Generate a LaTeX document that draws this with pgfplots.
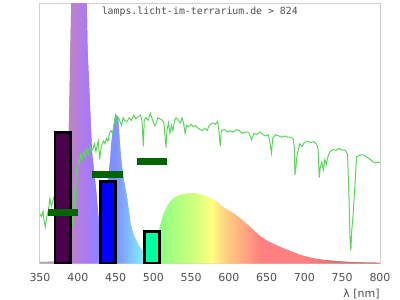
\documentclass[border=0pt]{standalone}
\usepackage{pgfplots}
\usepackage{pgfplotstable}
\pgfplotsset{compat=1.18}
\usepackage{fontspec}
\setmainfont{DejaVu Sans}
\newfontfamily\monofont{DejaVu Sans Mono}
\definecolor{labelgray}{RGB}{80,80,80}
\definecolor{framegray}{RGB}{208,208,208}
\definecolor{solargreen}{RGB}{90,214,90}
\definecolor{barpurple}{RGB}{75,0,75}
\definecolor{barblue}{RGB}{0,0,255}
\definecolor{barcyan}{RGB}{0,255,160}
\definecolor{segdark}{RGB}{0,100,0}
% wavelength colours
\definecolor{w350}{rgb}{0.67,0.67,0.67}
\definecolor{w380}{rgb}{0.70,0.60,0.72}
\definecolor{w388}{rgb}{0.74,0.52,0.76}
\definecolor{w398}{rgb}{0.72,0.50,0.84}
\definecolor{w405}{rgb}{0.69,0.49,0.92}
\definecolor{w412}{rgb}{0.66,0.48,0.96}
\definecolor{w420}{rgb}{0.60,0.50,1}
\definecolor{w435}{rgb}{0.52,0.54,1}
\definecolor{w450}{rgb}{0.50,0.57,1}
\definecolor{w460}{rgb}{0.50,0.66,1}
\definecolor{w470}{rgb}{0.50,0.77,1}
\definecolor{w480}{rgb}{0.50,0.88,1}
\definecolor{w490}{rgb}{0.50,0.98,0.88}
\definecolor{w500}{rgb}{0.52,1,0.60}
\definecolor{w509}{rgb}{0.56,1,0.50}
\definecolor{w526}{rgb}{0.66,1,0.50}
\definecolor{w548}{rgb}{0.78,1,0.50}
\definecolor{w570}{rgb}{0.94,1,0.50}
\definecolor{w577}{rgb}{1,1,0.50}
\definecolor{w588}{rgb}{1,0.88,0.50}
\definecolor{w601}{rgb}{1,0.78,0.50}
\definecolor{w615}{rgb}{1,0.69,0.50}
\definecolor{w628}{rgb}{1,0.60,0.50}
\definecolor{w641}{rgb}{1,0.50,0.50}
\definecolor{w700}{rgb}{1,0.50,0.50}
\definecolor{w730}{rgb}{0.90,0.46,0.46}
\definecolor{w760}{rgb}{0.80,0.43,0.43}
\definecolor{w800}{rgb}{0.70,0.40,0.40}
% whole-range ramp used as an underlay (position = 25bp + (lambda-350)/9 bp)
\pgfdeclarehorizontalshading{spectrum}{100bp}{
color(0bp)=(w350); color(25bp)=(w350); color(28.33bp)=(w380);
color(29.22bp)=(w388); color(30.33bp)=(w398); color(31.11bp)=(w405);
color(31.89bp)=(w412); color(32.78bp)=(w420); color(34.44bp)=(w435);
color(36.11bp)=(w450); color(37.22bp)=(w460); color(38.33bp)=(w470);
color(39.44bp)=(w480); color(40.56bp)=(w490); color(41.67bp)=(w500);
color(42.67bp)=(w509); color(44.56bp)=(w526); color(47bp)=(w548);
color(49.44bp)=(w570); color(50.22bp)=(w577); color(51.44bp)=(w588);
color(52.89bp)=(w601); color(54.44bp)=(w615); color(55.89bp)=(w628);
color(57.33bp)=(w641); color(63.89bp)=(w700); color(67.22bp)=(w730);
color(70.56bp)=(w760); color(75bp)=(w800); color(100bp)=(w800)}

\pgfplotstableread{
lambda v
350 0.6
360 0.6
370 0.7
380 1
384 2
386 10
387.5 40
388 48
389.7 75
391 95
392 120
395 180
398 210
400 220
405 190
409 140
411.8 100
412 98
413 82
414.5 72
416 62
417.3 53
419 43
420 40
421 37
423 32
425 26
427 19
429 14
432 17
435 22
440 32
443 40
444 45
447 52.5
449 55.8
450 56.5
451 57
453 56.5
454 54
456 45
458 38.5
460 34
461 32
465 25.7
468 19.3
470 15
472 12.8
474 11
478 8.5
480 7.3
482 6.3
486 5
490 5
495 5.5
500 7
505 10
509 14.5
513 18.6
518 21.8
522 23.7
526 24.8
529 25.4
535 26.3
546 26.9
548 26.9
556 27
562 26.6
570 25.8
575 25.2
577 24.8
584 23.7
588 22.8
590 22.2
601 20
606 19.3
615 17.3
628 14
641 10.5
650 8.8
660 7.3
672 5.8
684 4.4
694 3.3
700 2.8
705 2.4
716 1.7
727 1.3
730 1.2
738 1.0
750 0.7
760 0.5
770 0.4
782 0.3
800 0.2
}\specdata

\pgfplotstableread{
lambda v
350 19
352 18
354 20
355 17
357 14
359 18
361 20
363 25
365 22
367 24
369 26
372 28
376 30
380 31
384 27
388 32
391 29.5
393.4 14
395 30
396.8 18
398 35
400 40
402 38
404 42
406 40
408 43
410 41
412 44
414 42
416 45
418 43
420 44
422 46
424 43
427 47
429 40
431 45
434 47
436 46
438 48
440 47
442 50
444 51
446 50
448 53
450 57
452 55
454 56
456 54.5
458 53
460 56
462 55
465 54.5
468 56
471 55
474 57
477 55.5
480 56.5
483 57
485 55
486.8 45
488 55
490 56
493 55
496 57.7
499 55
502 53
504 54
506 56
509 55.5
512 55
514 54
516.8 44.5
518 51
520 54
522 50
524 53
526 51
528 55
530 56
533 55
536 54
538 56
540 54
542 50
544 53
547 52.5
550 53.5
553 52.5
556 53
559 52
562 51.5
565 51
568 52
571 51
574 53
578 54
582 53.5
585 54.5
586.5 52
588.5 45
590 51
594 51.5
598 50.5
602 51
606 50.5
610 51.5
614 51
618 50
622 50.5
626 50.5
630 47.5
633 50
637 49.5
641 50.5
645 49.5
648 49
652 49.5
654 47
656.3 42.5
658 48
662 49.5
666 49
670 48.5
674 49
678 48.5
682 48.5
685 48
686.5 45
687.5 34
689 38
690 41
692 44
694 46
697 45
700 46.5
704 47
708 46.5
712 46.8
716 46
718 44
719.6 33
721 37
723 39
725 36
727 40
729 38
731 41
734 43
738 43.8
742 43.5
746 44.2
750 43.6
754 43.5
757 42
759 25
760.5 8
761.5 5
762.5 12
764.5 19
767 31
769 41
772 41.5
776 41.8
780 41.4
784 40.5
787 40
791 39
795 38.6
798 39
800 38.6
}\solardata

\newcommand{\seg}[2]{\addplot[draw=none, left color=w#1, right color=w#2, restrict x to domain=#1:#2] table[x=lambda,y=v]{\specdata} \closedcycle;}

\begin{document}
\begin{tikzpicture}
\begin{axis}[
  scale only axis, width=255pt, height=195pt,
  xmin=350, xmax=800, ymin=0, ymax=100,
  xtick={350,400,...,800}, ytick=\empty,
  major tick length=0pt,
  axis line style={draw=framegray, line width=0.75pt},
  xticklabel style={font=\fontsize{8.25}{10}\selectfont, text=labelgray, anchor=base, yshift=-13.8pt},
  /pgf/number format/assume math mode=true,
  clip=true,
]
% underlay (hides seams between the gradient pieces)
\addplot[draw=none, shade, shading=spectrum] table[x=lambda,y=v]{\specdata} \closedcycle;
\seg{350}{380}\seg{380}{388}\seg{388}{398}\seg{398}{405}\seg{405}{412}
\seg{412}{420}\seg{420}{435}\seg{435}{450}\seg{450}{460}\seg{460}{470}
\seg{470}{480}\seg{480}{490}\seg{490}{500}\seg{500}{509}\seg{509}{526}
\seg{526}{548}\seg{548}{570}\seg{570}{577}\seg{577}{588}\seg{588}{601}
\seg{601}{615}\seg{615}{628}\seg{628}{641}\seg{641}{700}\seg{700}{730}
\seg{730}{760}\seg{760}{800}
\addplot[solargreen, line width=0.75pt] table[x=lambda,y=v]{\solardata};
\addplot[ybar, bar shift=0pt, bar width=20, fill=barpurple, draw=black, line width=2pt] coordinates {(380,50.2)};
\addplot[ybar, bar shift=0pt, bar width=20, fill=barblue, draw=black, line width=2pt] coordinates {(440,31.4)};
\addplot[ybar, bar shift=0pt, bar width=20, fill=barcyan, draw=black, line width=2pt] coordinates {(498,12.2)};
\addplot[segdark, line width=5.25pt] coordinates {(360,19.7) (400,19.7)};
\addplot[segdark, line width=5.25pt] coordinates {(419,34.2) (460,34.2)};
\addplot[segdark, line width=5.25pt] coordinates {(478,39.2) (518,39.2)};
\node[font=\monofont\fontsize{7.4}{9}\selectfont, text=labelgray] at (rel axis cs:0.47,0.966) {lamps.licht-im-terrarium.de > 824};
\end{axis}
\node[anchor=base east, font=\fontsize{8.25}{10}\selectfont, text=labelgray, inner sep=0pt] at ([yshift=-25.3pt]current axis.south east) {λ [nm]};
\pgfresetboundingbox
\path (current axis.south west) ++(-30pt,-27.5pt) rectangle ([xshift=15pt,yshift=2.5pt]current axis.north east);
\end{tikzpicture}
\end{document}
